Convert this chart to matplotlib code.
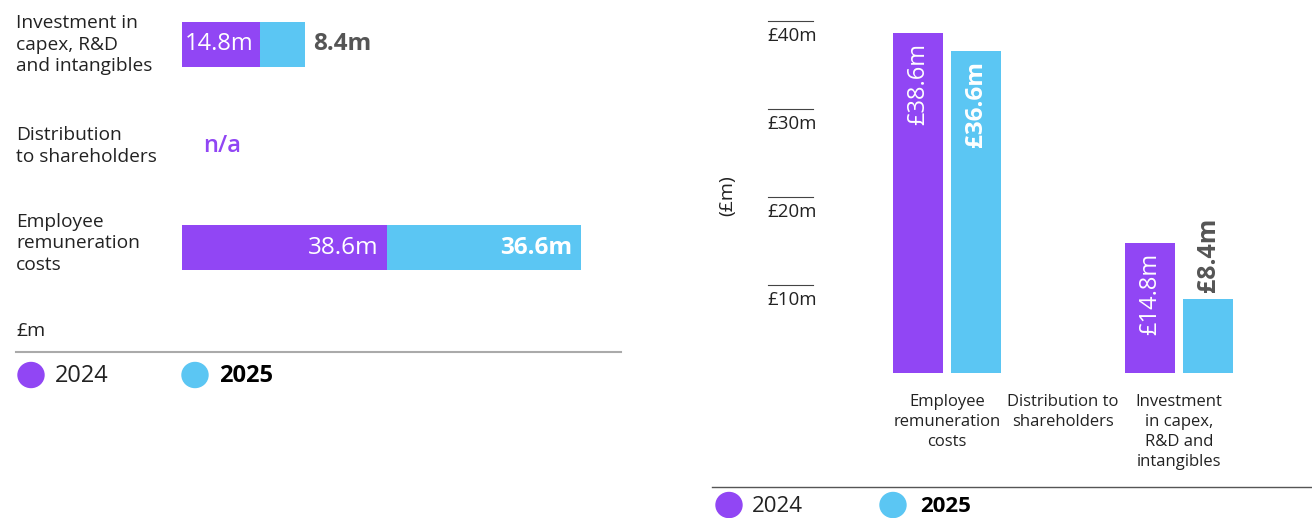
import matplotlib
matplotlib.use("Agg")
import matplotlib.pyplot as plt
from matplotlib.patches import Ellipse
from matplotlib.transforms import blended_transform_factory

plt.rcParams['font.family'] = ['Open Sans', 'DejaVu Sans']

# ---- data ----
categories_left = ["Investment in\ncapex, R&D\nand intangibles",
                   "Distribution\nto shareholders",
                   "Employee\nremuneration\ncosts"]
values_2024_left = [14.8, None, 38.6]
values_2025_left = [8.4, None, 36.6]

categories_right = ["Employee\nremuneration\ncosts",
                    "Distribution to\nshareholders",
                    "Investment\nin capex,\nR&D and\nintangibles"]
values_2024_right = [38.6, None, 14.8]
values_2025_right = [36.6, None, 8.4]

yticks_right = [10, 20, 30, 40]
ytick_labels_right = ["£10m", "£20m", "£30m", "£40m"]
years = ["2024", "2025"]

PURPLE = "#9146F4"
BLUE = "#5BC6F3"
GREY_TXT = "#555555"
TXT = "#222222"

W, H = 1312, 518
fig = plt.figure(figsize=(W / 100, H / 100), dpi=100)


def px_axes(x0, y0, x1, y1):
    return fig.add_axes([x0 / W, 1 - y1 / H, (x1 - x0) / W, (y1 - y0) / H])


# ---------------- LEFT PANEL ----------------
axL = px_axes(182, 0, 620, 300)
scaleL = 5.3  # px per unit
axL.set_xlim(0, 438 / scaleL)
axL.set_ylim(2 + 52.5 / 101.5, -44.5 / 101.5)
axL.axis("off")
bh = 45 / 101.5
for i, (a, b) in enumerate(zip(values_2024_left, values_2025_left)):
    if a is None:
        axL.text(3.9, i, "n/a", color=PURPLE, fontsize=17, fontweight="semibold",
                 va="center", ha="left")
        continue
    axL.barh(i, a, height=bh, color=PURPLE, left=0)
    axL.barh(i, b, height=bh, color=BLUE, left=a)

# value labels left
axL.annotate("14.8m", xy=(0, 0), xytext=(2, 0), textcoords="offset points",
             color="white", fontsize=17, va="center", ha="left")
axL.annotate("8.4m", xy=(values_2024_left[0] + values_2025_left[0], 0), xytext=(6, 0),
             textcoords="offset points", color=GREY_TXT, fontsize=17.5,
             fontweight="bold", va="center", ha="left")
axL.annotate("38.6m", xy=(values_2024_left[2], 2), xytext=(-6, 0), textcoords="offset points",
             color="white", fontsize=17.5, va="center", ha="right")
axL.annotate("36.6m", xy=(values_2024_left[2] + values_2025_left[2], 2), xytext=(-6, 0),
             textcoords="offset points", color="white", fontsize=17.5,
             fontweight="bold", va="center", ha="right")

# category labels left
trL = blended_transform_factory(fig.transFigure, axL.transData)
label_shift = [0.0, 0.0, -4.0]  # px offsets
for i, c in enumerate(categories_left):
    axL.annotate(c, xy=(16 / W, i), xycoords=trL, xytext=(0, -label_shift[i] * 0.72),
                 textcoords="offset points", fontsize=13.8, color=TXT,
                 va="center", ha="left", linespacing=1.22)

# ---------------- RIGHT PANEL ----------------
axR = px_axes(760, 0, 1312, 373)
pxu = 116.0
axR.set_xlim((760 - 947) / pxu, (1312 - 947) / pxu)
axR.set_ylim(0, 373 / 8.8)
axR.axis("off")
bw = 50 / pxu
off = 29 / pxu
x = list(range(len(categories_right)))
for i in x:
    a = values_2024_right[i]
    b = values_2025_right[i]
    if a is not None:
        axR.bar(i - off, a, width=bw, color=PURPLE)
    if b is not None:
        axR.bar(i + off, b, width=bw, color=BLUE)

# bar labels
axR.annotate("£38.6m", xy=(0 - off, values_2024_right[0]), xytext=(0, -7),
             textcoords="offset points", rotation=90, color="white",
             fontsize=17, ha="center", va="top")
axR.annotate("£36.6m", xy=(0 + off, values_2025_right[0]), xytext=(0, -7),
             textcoords="offset points", rotation=90, color="white",
             fontsize=17.5, fontweight="bold", ha="center", va="top")
axR.annotate("£14.8m", xy=(2 - off, values_2024_right[2]), xytext=(0, -7),
             textcoords="offset points", rotation=90, color="white",
             fontsize=17, ha="center", va="top")
axR.annotate("£8.4m", xy=(2 + off, values_2025_right[2]), xytext=(0, 5),
             textcoords="offset points", rotation=90, color=GREY_TXT,
             fontsize=18, fontweight="bold", ha="center", va="bottom")

# y ticks (short lines with labels below)
trR = blended_transform_factory(fig.transFigure, axR.transData)
for v, lab in zip(yticks_right, ytick_labels_right):
    axR.plot([768 / W, 813 / W], [v, v], transform=trR, color="#444444", lw=0.8)
    axR.annotate(lab, xy=(767 / W, v), xycoords=trR, xytext=(0, -4.5),
                 textcoords="offset points", fontsize=13.5, color=TXT,
                 ha="left", va="top")

axR.text(727 / W, (373 - 196) / 8.8, "(£m)", transform=trR,
         rotation=90, fontsize=14, color=TXT, ha="center", va="center")

for i, c in enumerate(categories_right):
    axR.annotate(c, xy=(i, 0), xytext=(0, -15), textcoords="offset points",
                 fontsize=12, color=TXT, ha="center", va="top",
                 multialignment="center", linespacing=1.33)

# ---------------- overlay: legends & rules ----------------
ov = fig.add_axes([0, 0, 1, 1])
ov.set_xlim(0, W)
ov.set_ylim(H, 0)
ov.axis("off")
ov.patch.set_alpha(0)

ov.text(16, 331, "£m", fontsize=14, color=TXT, va="center", ha="left")
ov.plot([16, 621], [352, 352], color="#aaaaaa", lw=1.5)
ov.plot([712, 1312], [487, 487], color="#555555", lw=1.0)

legend_sets = [
    (375, [(31, 55), (195, 219)], 17),
    (505, [(729, 752), (893, 920)], 16),
]
colors = [PURPLE, BLUE]
for ly, items, fs in legend_sets:
    for (cx, tx), col, yr in zip(items, colors, years):
        ov.add_patch(Ellipse((cx, ly), 26, 25, color=col))
        ov.text(tx, ly + 1, yr, fontsize=fs, color="black" if yr == "2025" else TXT,
                fontweight="bold" if yr == "2025" else "normal",
                va="center", ha="left")

fig.savefig("out.png", dpi=100)
